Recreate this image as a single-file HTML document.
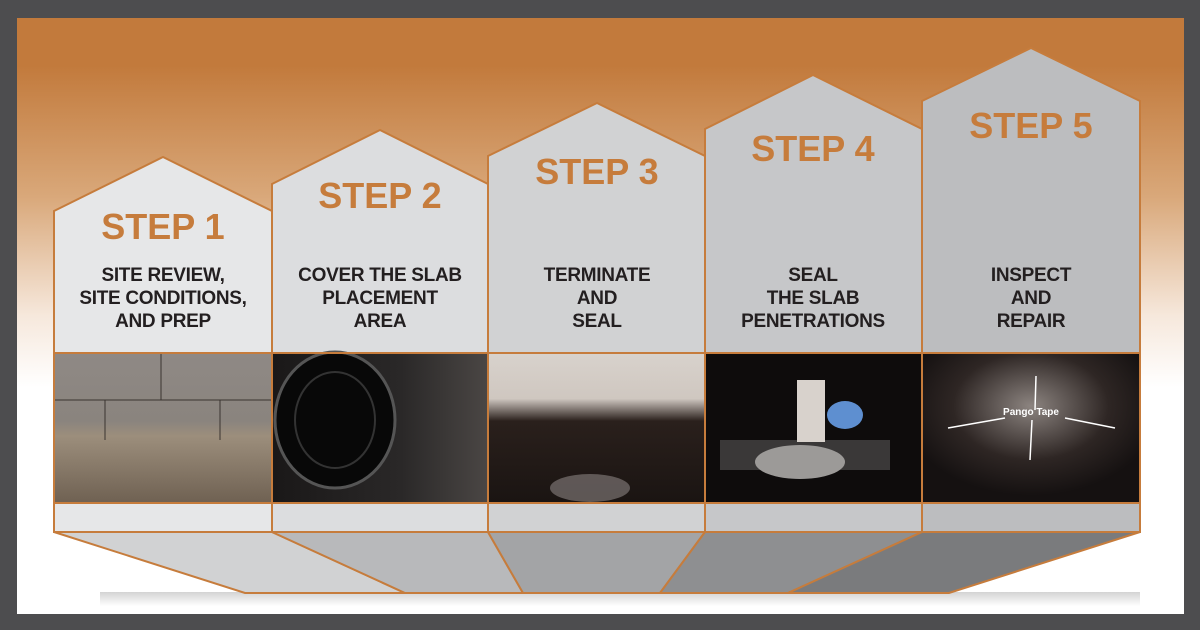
<!DOCTYPE html>
<html><head><meta charset="utf-8"><style>
html,body{margin:0;padding:0;background:#4d4d4f;}
svg{display:block;}
text{font-family:"Liberation Sans",sans-serif;font-weight:bold;text-anchor:middle;}
.t{fill:#c67c3c;font-size:36px;}
.d{fill:#231f20;font-size:19px;letter-spacing:-0.3px;}
</style></head><body>
<svg width="1200" height="630" viewBox="0 0 1200 630" xmlns="http://www.w3.org/2000/svg">
<defs>
<linearGradient id="bg" x1="0" y1="0" x2="0" y2="1">
<stop offset="0" stop-color="#c27a3c"/><stop offset="0.08" stop-color="#c27a3c"/>
<stop offset="0.3" stop-color="#d9a87a"/><stop offset="0.5" stop-color="#f6e8dc"/>
<stop offset="0.62" stop-color="#ffffff"/><stop offset="1" stop-color="#ffffff"/>
</linearGradient>
<linearGradient id="sh" x1="0" y1="0" x2="0" y2="1"><stop offset="0" stop-color="#c8c8c8"/><stop offset="1" stop-color="#ffffff"/></linearGradient>
<linearGradient id="p1" x1="0" y1="0" x2="0" y2="1"><stop offset="0" stop-color="#8f8985"/><stop offset="0.45" stop-color="#8a847e"/><stop offset="0.55" stop-color="#9c8e7c"/><stop offset="1" stop-color="#6f6152"/></linearGradient>
<linearGradient id="p2" x1="0" y1="0" x2="1" y2="0"><stop offset="0" stop-color="#1a1818"/><stop offset="0.6" stop-color="#2a2828"/><stop offset="1" stop-color="#4a4644"/></linearGradient>
<linearGradient id="p3" x1="0" y1="0" x2="0" y2="1"><stop offset="0" stop-color="#d8d2cc"/><stop offset="0.3" stop-color="#cfc7c0"/><stop offset="0.45" stop-color="#2a201c"/><stop offset="1" stop-color="#1a1412"/></linearGradient>
<radialGradient id="p5" cx="0.5" cy="0.35" r="0.6"><stop offset="0" stop-color="#8c8480"/><stop offset="0.6" stop-color="#2e2624"/><stop offset="1" stop-color="#151111"/></radialGradient>
</defs>
<rect x="17" y="18" width="1167" height="596" fill="url(#bg)"/>
<rect x="100" y="592" width="1040" height="14" fill="url(#sh)" opacity="0.8"/>
<g stroke="#c67c3c" stroke-width="2">
<polygon points="54,211 163,157 272,211 272,532 54,532" fill="#e6e7e8"/>
<polygon points="272,184 380,130 488,184 488,532 272,532" fill="#dcdddf"/>
<polygon points="488,156 597,103 705,156 705,532 488,532" fill="#d1d2d3"/>
<polygon points="705,129 813,75 922,129 922,532 705,532" fill="#c6c7c9"/>
<polygon points="922,101 1031,48 1140,101 1140,532 922,532" fill="#bcbdbf"/>
<polygon points="54,532 272,532 405,593 245,593" fill="#d1d2d3"/>
<polygon points="272,532 488,532 523,593 405,593" fill="#b8b9bb"/>
<polygon points="488,532 705,532 660,593 523,593" fill="#a3a4a6"/>
<polygon points="705,532 922,532 788,593 660,593" fill="#8e8f91"/>
<polygon points="922,532 1140,532 949,593 788,593" fill="#7a7b7d"/>
</g>
<rect x="55" y="354" width="216" height="149" fill="url(#p1)"/>
<g stroke="#3a3430" stroke-width="1"><line x1="55" y1="400" x2="271" y2="400"/><line x1="161" y1="354" x2="161" y2="400"/><line x1="105" y1="400" x2="105" y2="440"/><line x1="220" y1="400" x2="220" y2="440"/></g>
<rect x="273" y="354" width="214" height="149" fill="url(#p2)"/>
<ellipse cx="335" cy="420" rx="60" ry="68" fill="#080808" stroke="#555" stroke-width="3"/>
<ellipse cx="335" cy="420" rx="40" ry="48" fill="none" stroke="#333" stroke-width="2"/>
<rect x="489" y="354" width="215" height="149" fill="url(#p3)"/>
<ellipse cx="590" cy="488" rx="40" ry="14" fill="#7a7472" opacity="0.7"/>
<rect x="706" y="354" width="215" height="149" fill="#0e0c0c"/>
<rect x="720" y="440" width="170" height="30" fill="#3a3838"/>
<ellipse cx="800" cy="462" rx="45" ry="17" fill="#9c9a98"/>
<rect x="797" y="380" width="28" height="62" fill="#d8d2cc"/>
<ellipse cx="845" cy="415" rx="18" ry="14" fill="#5e8fd0"/>
<rect x="923" y="354" width="216" height="149" fill="url(#p5)"/>
<g stroke="#fff" stroke-width="1.5" fill="#fff">
<line x1="1035" y1="410" x2="1036" y2="376"/><line x1="1032" y1="420" x2="1030" y2="460"/>
<line x1="1005" y1="418" x2="948" y2="428"/><line x1="1065" y1="418" x2="1115" y2="428"/>
</g>
<text x="1031" y="415" style="font-size:10px;fill:#fff">Pango Tape</text>
<g stroke="#c67c3c" stroke-width="2" fill="none">
<line x1="54" y1="353" x2="1140" y2="353"/><line x1="54" y1="503" x2="1140" y2="503"/>
<line x1="272" y1="353" x2="272" y2="532"/><line x1="488" y1="353" x2="488" y2="532"/><line x1="705" y1="353" x2="705" y2="532"/><line x1="922" y1="353" x2="922" y2="532"/>
</g>
<text class="t" x="163" y="239">STEP 1</text>
<text class="t" x="380" y="208">STEP 2</text>
<text class="t" x="597" y="184">STEP 3</text>
<text class="t" x="813" y="161">STEP 4</text>
<text class="t" x="1031" y="138">STEP 5</text>
<text class="d" x="163" y="281">SITE REVIEW,</text><text class="d" x="163" y="304">SITE CONDITIONS,</text><text class="d" x="163" y="327">AND PREP</text>
<text class="d" x="380" y="281">COVER THE SLAB</text><text class="d" x="380" y="304">PLACEMENT</text><text class="d" x="380" y="327">AREA</text>
<text class="d" x="597" y="281">TERMINATE</text><text class="d" x="597" y="304">AND</text><text class="d" x="597" y="327">SEAL</text>
<text class="d" x="813" y="281">SEAL</text><text class="d" x="813" y="304">THE SLAB</text><text class="d" x="813" y="327">PENETRATIONS</text>
<text class="d" x="1031" y="281">INSPECT</text><text class="d" x="1031" y="304">AND</text><text class="d" x="1031" y="327">REPAIR</text>
</svg>
</body></html>
